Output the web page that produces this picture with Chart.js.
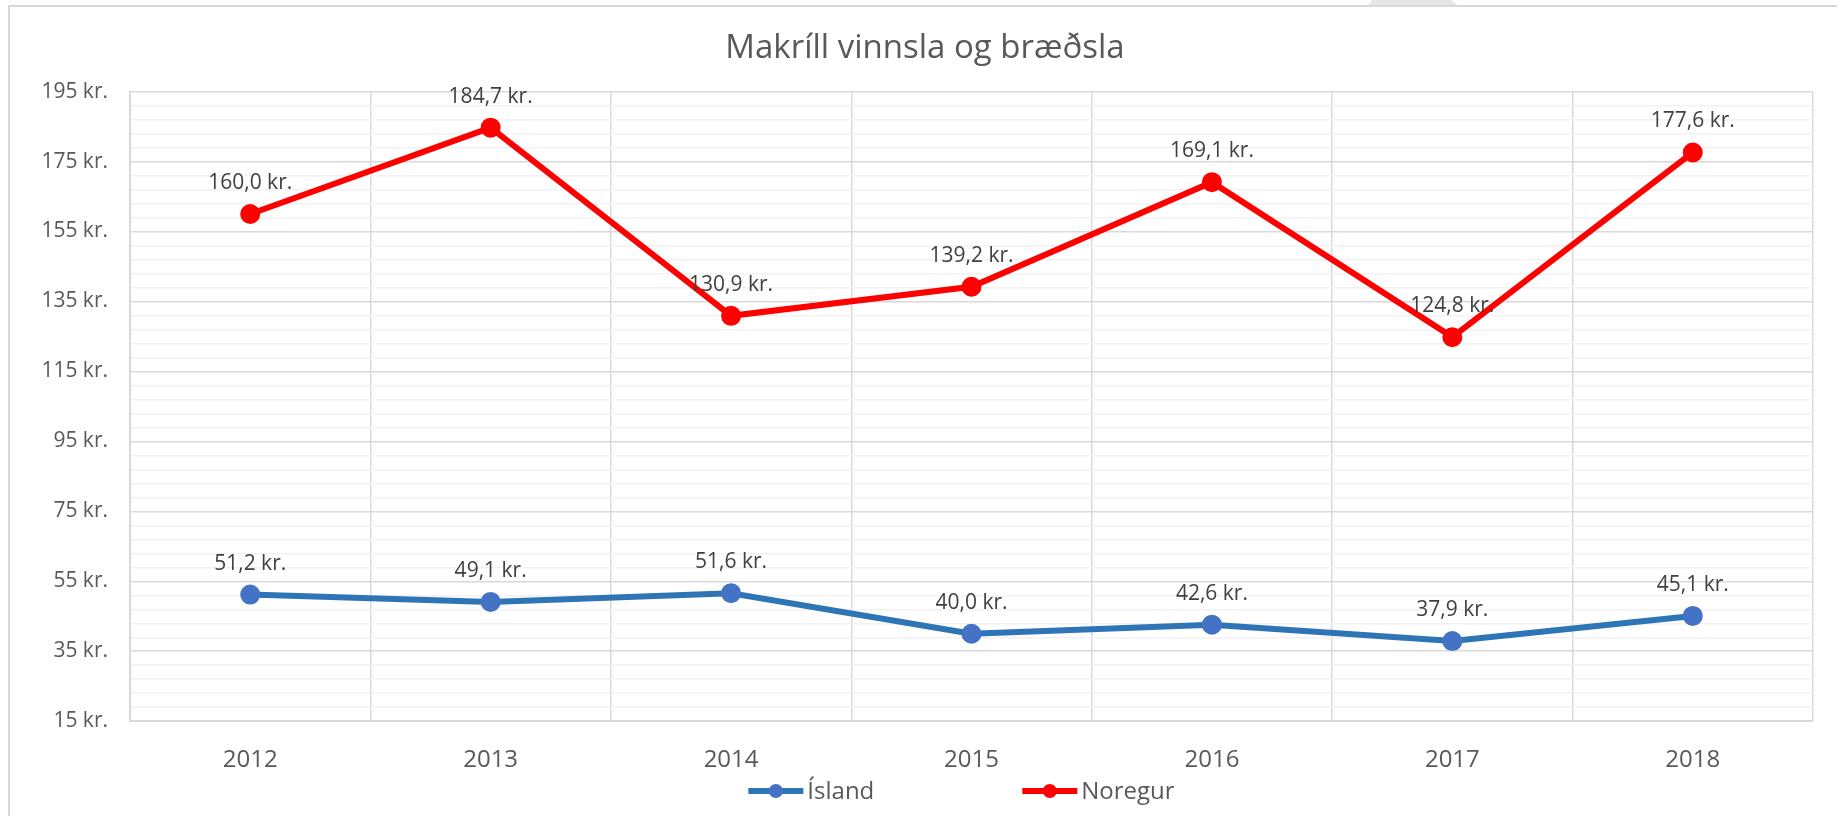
<!DOCTYPE html>
<html lang="is">
<head>
<meta charset="utf-8">
<title>Makríll vinnsla og bræðsla</title>
<script src="https://cdn.jsdelivr.net/npm/chart.js@4/dist/chart.umd.min.js"></script>
<style>
  html,body{margin:0;padding:0;background:#fff;}
  canvas{display:block;}
</style>
</head>
<body>
<canvas id="c" width="1837" height="816"></canvas>
<script>
const years = ["2012","2013","2014","2015","2016","2017","2018"];
const island = [51.2, 49.1, 51.6, 40.0, 42.6, 37.9, 45.1];
const noregur = [160.0, 184.7, 130.9, 139.2, 169.1, 124.8, 177.6];
const yMin = 15, yMax = 195, yMajor = 20, yMinor = 4;

const FONT = "'Open Sans', 'Noto Sans', sans-serif";
const GREY = "#595959";
const kr = v => v.toFixed(1).replace(".", ",") + " kr.";

// light frame around the whole chart, like the Excel screenshot
const frame = {
  id: "frame",
  beforeDraw(chart){
    const c = chart.ctx;
    c.save();
    c.fillStyle = "#fff"; c.fillRect(0,0,chart.width,chart.height);
    c.fillStyle = "#e6e6e6";
    c.beginPath(); c.moveTo(1372,0); c.lineTo(1451,0); c.lineTo(1458,6); c.lineTo(1368,6); c.closePath(); c.fill();
    c.strokeStyle = "#d9d9d9"; c.lineWidth = 2;
    c.beginPath(); c.moveTo(9,816); c.lineTo(9,6); c.lineTo(chart.width,6); c.stroke();
    c.restore();
  }
};

// value labels above each point
const valueLabels = {
  id: "valueLabels",
  afterDatasetsDraw(chart){
    const c = chart.ctx;
    c.save();
    c.font = "21px " + FONT; c.fillStyle = "#404040";
    c.textAlign = "center"; c.textBaseline = "middle";
    chart.data.datasets.forEach((ds,i)=>{
      chart.getDatasetMeta(i).data.forEach((pt,j)=>{
        c.fillText(kr(ds.data[j]), pt.x, pt.y - 31);
      });
    });
    c.restore();
  }
};

// legend with a line + marker symbol, items spread like Excel
const lineLegend = {
  id: "lineLegend",
  afterDraw(chart){
    const c = chart.ctx, a = chart.chartArea;
    const symW = 55, gap = 4, itemGap = 148, y = 791;
    c.save();
    c.font = "24px " + FONT; c.textBaseline = "middle";
    const items = chart.data.datasets.map(ds => ({ds, w: symW + gap + c.measureText(ds.label).width}));
    const total = items.reduce((s,it)=>s+it.w,0) + itemGap*(items.length-1);
    let x = (a.left + a.right)/2 - 10 - total/2;
    items.forEach(({ds,w})=>{
      c.strokeStyle = ds.borderColor; c.lineWidth = 6;
      c.beginPath(); c.moveTo(x,y); c.lineTo(x+symW,y); c.stroke();
      c.fillStyle = ds.pointBackgroundColor;
      c.beginPath(); c.arc(x+symW/2,y,7,0,Math.PI*2); c.fill();
      c.fillStyle = GREY;
      c.fillText(ds.label, x+symW+gap, y+1);
      x += w + itemGap;
    });
    c.restore();
  }
};

new Chart(document.getElementById("c"),{
  type:"line",
  data:{labels:years, datasets:[
    {label:"Ísland", data:island, borderColor:"#2E75B6", backgroundColor:"#2E75B6",
     pointBackgroundColor:"#4472C4", pointBorderColor:"#4472C4", borderWidth:6, pointRadius:7, tension:0},
    {label:"Noregur", data:noregur, borderColor:"#FF0000", backgroundColor:"#FF0000",
     pointBackgroundColor:"#FF0000", pointBorderColor:"#FF0000", borderWidth:6, pointRadius:7, tension:0}
  ]},
  options:{
    responsive:false, animation:false, devicePixelRatio:1,
    layout:{padding:{top:0,left:37,right:24,bottom:16}},
    plugins:{
      legend:{display:false}, tooltip:{enabled:false},
      title:{display:true, text:"Makríll vinnsla og bræðsla", color:GREY,
        font:{family:FONT,size:33,weight:"normal"}, padding:{top:29,bottom:23}}
    },
    scales:{
      x:{offset:true,
        grid:{offset:true, color:"#d9d9d9", lineWidth:1.5, drawTicks:false},
        border:{color:"#d9d9d9", width:2},
        ticks:{color:GREY, font:{family:FONT,size:24}, padding:25}},
      y:{min:yMin, max:yMax,
        afterFit(s){ s.width = 93; },
        grid:{drawTicks:false, lineWidth:1.5,
          color:ctx => ((ctx.tick.value - yMin) % yMajor === 0) ? "#d9d9d9" : "#f2f2f2"},
        border:{color:"#d9d9d9", width:2},
        ticks:{stepSize:yMinor, maxTicksLimit:100, autoSkip:false, padding:22,
          color:GREY, font:{family:FONT,size:21},
          callback:v => ((v - yMin) % yMajor === 0) ? v + " kr." : ""}}
    }
  },
  plugins:[frame, valueLabels, lineLegend]
});
</script>
</body>
</html>
